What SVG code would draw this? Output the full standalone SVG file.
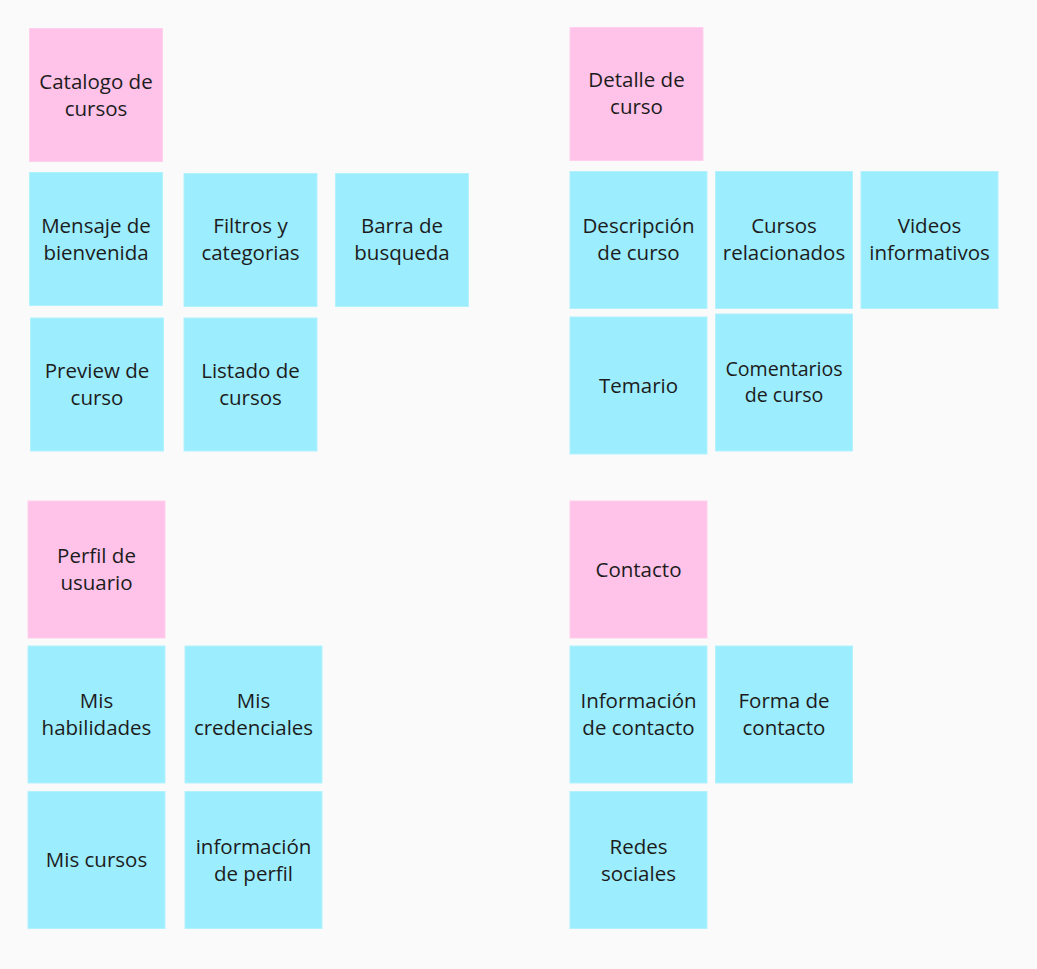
<svg xmlns="http://www.w3.org/2000/svg" width="1037" height="969" viewBox="0 0 1037 969">
<style>
.bg{fill:#fafafa}
.pink{fill:#ffc2e8;stroke:#ffcfee;stroke-width:1}
.cyan{fill:#9cedfd;stroke:#b2f2fd;stroke-width:1}
text{font-family:"Open Sans","Liberation Sans",sans-serif;font-size:20.5px;fill:#1c1c1c;text-anchor:middle}
.sm{font-size:19.6px}
</style>
<rect class="bg" x="0" y="0" width="1037" height="969"/>
<g id="connectors"></g>
<g id="catalogo"><rect class="pink" x="29.5" y="28.5" width="133" height="133"/><text x="96" y="88.5">Catalogo de</text><text x="96" y="115.5">cursos</text></g>
<g id="mensaje"><rect class="cyan" x="29.5" y="172.5" width="133" height="133"/><text x="96" y="232.5">Mensaje de</text><text x="96" y="259.5">bienvenida</text></g>
<g id="filtros"><rect class="cyan" x="184" y="173.5" width="133" height="133"/><text x="250.5" y="233">Filtros y</text><text x="250.5" y="260">categorias</text></g>
<g id="barra"><rect class="cyan" x="335.5" y="173.5" width="133" height="133"/><text x="402" y="233">Barra de</text><text x="402" y="260">busqueda</text></g>
<g id="preview"><rect class="cyan" x="30.5" y="318" width="133" height="133"/><text x="97" y="378">Preview de</text><text x="97" y="405">curso</text></g>
<g id="listado"><rect class="cyan" x="184" y="318" width="133" height="133"/><text x="250.5" y="378">Listado de</text><text x="250.5" y="405">cursos</text></g>

<g id="detalle"><rect class="pink" x="570" y="27.5" width="133" height="133"/><text x="636.5" y="87">Detalle de</text><text x="636.5" y="114">curso</text></g>
<g id="descripcion"><rect class="cyan" x="570" y="171.5" width="137" height="137"/><text x="638.5" y="233">Descripción</text><text x="638.5" y="260">de curso</text></g>
<g id="relacionados"><rect class="cyan" x="715.5" y="171.5" width="137" height="137"/><text x="784" y="233">Cursos</text><text x="784" y="260">relacionados</text></g>
<g id="videos"><rect class="cyan" x="861" y="171.5" width="137" height="137"/><text x="929.5" y="233">Videos</text><text x="929.5" y="260">informativos</text></g>
<g id="temario"><rect class="cyan" x="570" y="317" width="137" height="137"/><text x="638.5" y="392.5">Temario</text></g>
<g id="comentarios"><rect class="cyan" x="715.5" y="314" width="137" height="137"/><text class="sm" x="784" y="376">Comentarios</text><text class="sm" x="784" y="401.5">de curso</text></g>

<g id="perfil"><rect class="pink" x="28" y="501" width="137" height="137"/><text x="96.5" y="562.5">Perfil de</text><text x="96.5" y="589.5">usuario</text></g>
<g id="habilidades"><rect class="cyan" x="28" y="646" width="137" height="137"/><text x="96.5" y="708">Mis</text><text x="96.5" y="735">habilidades</text></g>
<g id="credenciales"><rect class="cyan" x="185" y="646" width="137" height="137"/><text x="253.5" y="708">Mis</text><text x="253.5" y="735">credenciales</text></g>
<g id="miscursos"><rect class="cyan" x="28" y="791.5" width="137" height="137"/><text x="96.5" y="867">Mis cursos</text></g>
<g id="infoperfil"><rect class="cyan" x="185" y="791.5" width="137" height="137"/><text x="253.5" y="853.5">información</text><text x="253.5" y="880.5">de perfil</text></g>

<g id="contacto"><rect class="pink" x="570" y="501" width="137" height="137"/><text x="638.5" y="576.5">Contacto</text></g>
<g id="infocontacto"><rect class="cyan" x="570" y="646" width="137" height="137"/><text x="638.5" y="708">Información</text><text x="638.5" y="735">de contacto</text></g>
<g id="forma"><rect class="cyan" x="715.5" y="646" width="137" height="137"/><text x="784" y="708">Forma de</text><text x="784" y="735">contacto</text></g>
<g id="redes"><rect class="cyan" x="570" y="791.5" width="137" height="137"/><text x="638.5" y="853.5">Redes</text><text x="638.5" y="880.5">sociales</text></g>
</svg>
